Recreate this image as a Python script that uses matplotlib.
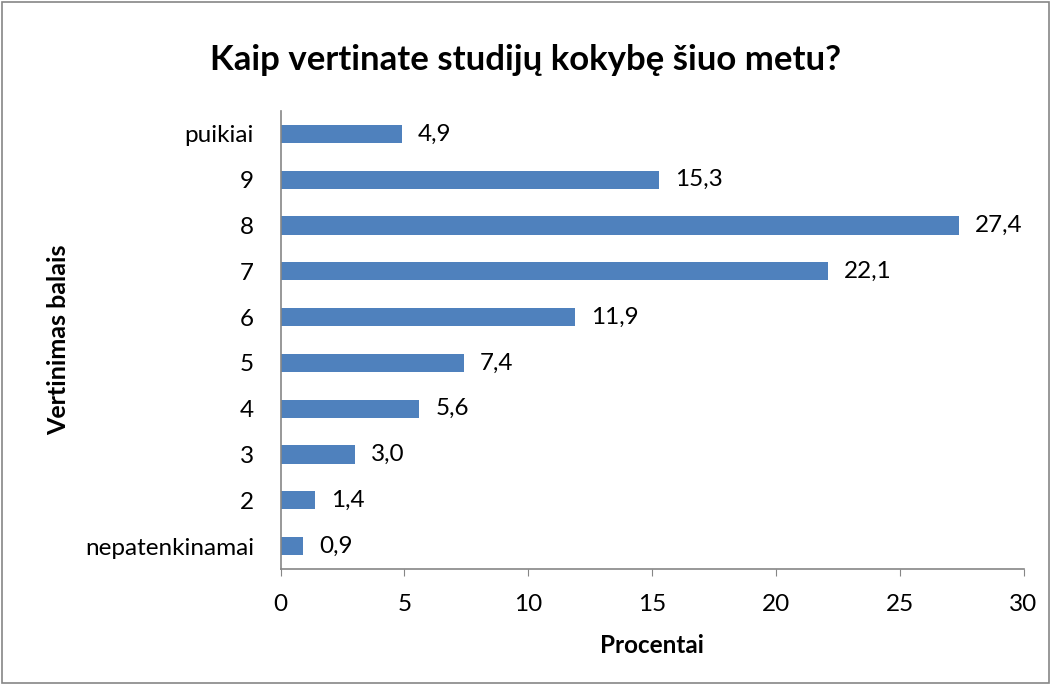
import matplotlib.pyplot as plt
from matplotlib.patches import Rectangle

categories = ['nepatenkinamai', '2', '3', '4', '5', '6', '7', '8', '9', 'puikiai']
values = [0.9, 1.4, 3.0, 5.6, 7.4, 11.9, 22.1, 27.4, 15.3, 4.9]
labels = ['0,9', '1,4', '3,0', '5,6', '7,4', '11,9', '22,1', '27,4', '15,3', '4,9']
xticks = [0, 5, 10, 15, 20, 25, 30]

plt.rcParams['font.family'] = ['Lato', 'DejaVu Sans']

fig = plt.figure(figsize=(10.52, 6.84), dpi=100)
ax = fig.add_axes([280.5 / 1052, 1 - 569 / 684, (1023.5 - 280.5) / 1052, (569 - 111) / 684])

pos = range(len(categories))
ax.barh(pos, values, height=0.4, color='#4F81BD')
for p, v, l in zip(pos, values, labels):
    ax.text(v + 0.65, p, l, va='center', ha='left', fontsize=17.5)

ax.set_xlim(0, 30)
ax.set_ylim(-0.5, len(categories) - 0.5)
ax.set_xticks(xticks)
ax.set_xticklabels([str(t) for t in xticks], fontsize=17.5)
ax.set_yticks(list(pos))
ax.set_yticklabels(categories, fontsize=17.5)
ax.tick_params(axis='y', length=0, pad=19)
ax.tick_params(axis='x', length=5, color='#868686', pad=13)

for s in ['top', 'right']:
    ax.spines[s].set_visible(False)
for s in ['left', 'bottom']:
    ax.spines[s].set_color('#868686')
    ax.spines[s].set_linewidth(1.2)

ax.set_xlabel('Procentai', fontsize=17.5, fontweight='bold', labelpad=14)
ax.set_ylabel('Vertinimas balais', fontsize=18, fontweight='bold')
ax.yaxis.set_label_coords(-210 / 743, 0.5)

fig.text(0.5, 1 - 60 / 684, 'Kaip vertinate studijų kokybę šiuo metu?',
         ha='center', va='center', fontsize=25, fontweight='bold')

fig.patches.append(Rectangle((0.002, 0.002), 0.995, 0.995, transform=fig.transFigure,
                             fill=False, edgecolor='#868686', linewidth=1.2))

fig.savefig('out.png', dpi=100)
